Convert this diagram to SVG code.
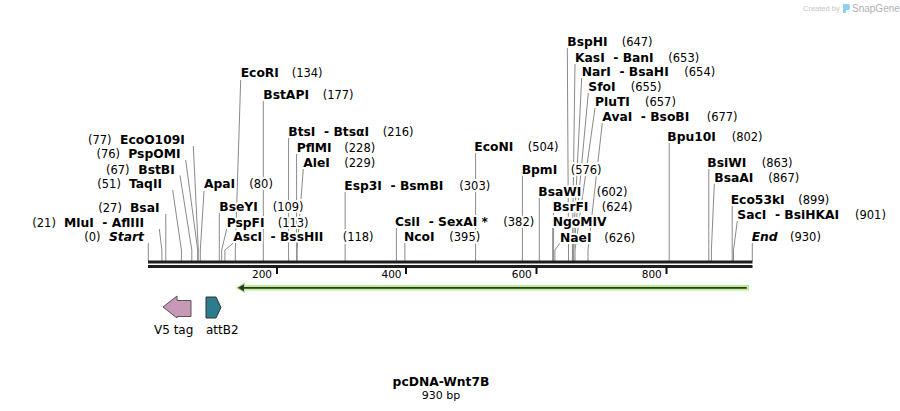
<svg xmlns="http://www.w3.org/2000/svg" width="900" height="411" viewBox="0 0 900 411">
<style>
text{font-family:"DejaVu Sans","Verdana",sans-serif;fill:#000}
.lab text{paint-order:stroke;stroke:#fff;stroke-width:4px;stroke-linejoin:round}
.n{font-weight:bold;font-size:12.3px}
.i{font-weight:bold;font-style:italic;font-size:12.3px}
.c{font-size:11.5px}
.conn polyline{fill:none;stroke:#8a8a8a;stroke-width:1}
.tick{fill:#111}
.tl{font-size:10.5px;text-anchor:end}
.ft{font-size:12px}
</style>
<rect width="900" height="411" fill="#fff"/>
<g id="watermark">
<text x="803" y="11" style="font-size:7.5px;fill:#c4c4c4;font-family:'Liberation Sans',sans-serif">Created by</text>
<path d="M843,4 h5 a2,2 0 0 1 2,2 v2 a2,2 0 0 1 -2,2 h-2 v3 h-3 z" fill="#8fd0f0"/>
<text x="852" y="12" style="font-size:10px;fill:#b0b0b0;font-family:'Liberation Sans',sans-serif">SnapGene</text>
</g>
<g id="connectors" class="conn">
<polyline points="193.3,146 198.3,250 198.3,261"/>
<polyline points="185.7,160 197.7,250 197.7,261"/>
<polyline points="180,175.5 191.8,250 191.8,261"/>
<polyline points="172.7,190 181.4,250 181.4,261"/>
<polyline points="165.8,214 165.8,261"/>
<polyline points="159.3,229 161.9,250 161.9,261"/>
<polyline points="148.3,243 148.3,261"/>
<polyline points="204,191 200.3,250 200.3,261"/>
<polyline points="240.7,80 235.3,250 235.3,261"/>
<polyline points="263.3,101 263.3,261"/>
<polyline points="288.6,138 288.6,261"/>
<polyline points="296.6,154 296.6,261"/>
<polyline points="303.3,169 297.1,250 297.1,261"/>
<polyline points="345.1,191 345.1,261"/>
<polyline points="219.3,213 219.3,261"/>
<polyline points="226.7,229 221.7,250 221.7,261"/>
<polyline points="233.3,243 224.9,250 224.9,261"/>
<polyline points="396.4,228 396.4,261"/>
<polyline points="404.9,243 404.9,261"/>
<polyline points="475.6,153 475.6,261"/>
<polyline points="522.4,175 522.4,261"/>
<polyline points="539.3,198 539.3,261"/>
<polyline points="553.6,213 553.6,261"/>
<polyline points="552.7,228 552.7,261"/>
<polyline points="560,243 554.9,250 554.9,261"/>
<polyline points="567.3,48 568.5,250 568.5,261"/>
<polyline points="575,64 572.4,250 572.4,261"/>
<polyline points="581.7,78 573.1,250 573.1,261"/>
<polyline points="588.3,93 573.7,250 573.7,261"/>
<polyline points="595,108 575,250 575,261"/>
<polyline points="602.3,123 588,250 588,261"/>
<polyline points="669.2,143 669.2,261"/>
<polyline points="708.8,169 708.8,261"/>
<polyline points="714.3,184 711.4,250 711.4,261"/>
<polyline points="732.2,206 732.2,261"/>
<polyline points="737.3,221 733.5,250 733.5,261"/>
<polyline points="752.3,243 752.3,261"/>
</g>
<g id="backbone">
<rect x="148" y="260.5" width="604.5" height="3" fill="#1e1e1e"/>
<rect x="148" y="265" width="604.5" height="3" fill="#1e1e1e"/>
<rect class="tick" x="276" y="267" width="2" height="7"/>
<rect class="tick" x="405" y="267" width="2" height="7"/>
<rect class="tick" x="535.5" y="267" width="2" height="7"/>
<rect class="tick" x="665.5" y="267" width="2" height="7"/>
<text class="tl" x="272" y="277.5">200</text>
<text class="tl" x="401.5" y="277.5">400</text>
<text class="tl" x="531.8" y="277.5">600</text>
<text class="tl" x="661.8" y="277.5">800</text>
</g>
<g id="feature-wnt7b">
<path d="M749,287.8 H243" stroke="#b6f08a" stroke-width="5.6" fill="none"/>
<polygon points="235.5,287.8 245,282 245,293.6" fill="#b6f08a"/>
<path d="M746.7,287.8 H242" stroke="#333" stroke-width="1.8" fill="none"/>
<polygon points="237.8,287.8 244,284.2 244,291.4" fill="#333"/>
</g>
<g id="feature-v5tag">
<polygon points="163,307 177,296 177,300.5 191,300.5 191,316.5 177,316.5 177,318" fill="#c998b6" stroke="#555" stroke-width="1"/>
<text class="ft" x="154" y="334">V5 tag</text>
</g>
<g id="feature-attb2">
<polygon points="206,297 216,297 221,307.5 216,318 206,318" fill="#2b7c8d" stroke="#333" stroke-width="1"/>
<text class="ft" x="206" y="334">attB2</text>
</g>
<g class="lab">
<g id="EcoO109I"><text class="c" x="88" y="144">(77)</text><text class="n" x="120" y="144">EcoO109I</text></g>
<g id="PspOMI"><text class="c" x="96.5" y="158">(76)</text><text class="n" x="128.3" y="158">PspOMI</text></g>
<g id="BstBI"><text class="c" x="106" y="173.5">(67)</text><text class="n" x="138.3" y="173.5">BstBI</text></g>
<g id="TaqII"><text class="c" x="97.3" y="188">(51)</text><text class="n" x="129" y="188">TaqII</text></g>
<g id="BsaI"><text class="c" x="98.3" y="212">(27)</text><text class="n" x="130" y="212">BsaI</text></g>
<g id="MluI"><text class="c" x="32.3" y="226.5">(21)</text><text class="n" x="64" y="226.5" xml:space="preserve">MluI  - AflIII</text></g>
<g id="Start"><text class="c" x="84.3" y="241">(0)</text><text class="i" x="109" y="241">Start</text></g>
<g id="ApaI"><text class="n" x="204" y="188">ApaI</text><text class="c" x="249.3" y="188">(80)</text></g>
<g id="EcoRI"><text class="n" x="240.7" y="77">EcoRI</text><text class="c" x="291.7" y="77">(134)</text></g>
<g id="BstAPI"><text class="n" x="263.3" y="99">BstAPI</text><text class="c" x="322.7" y="99">(177)</text></g>
<g id="BtsI"><text class="n" x="288.3" y="136" xml:space="preserve">BtsI  - BtsαI</text><text class="c" x="382.7" y="136">(216)</text></g>
<g id="PflMI"><text class="n" x="296.7" y="152">PflMI</text><text class="c" x="344.3" y="152">(228)</text></g>
<g id="AleI"><text class="n" x="303.3" y="167">AleI</text><text class="c" x="344.3" y="167">(229)</text></g>
<g id="Esp3I"><text class="n" x="344.3" y="189.5" xml:space="preserve">Esp3I  - BsmBI</text><text class="c" x="459.3" y="189.5">(303)</text></g>
<g id="BseYI"><text class="n" x="219.3" y="211">BseYI</text><text class="c" x="272.7" y="211">(109)</text></g>
<g id="PspFI"><text class="n" x="226.7" y="226.5">PspFI</text><text class="c" x="277.7" y="226.5">(113)</text></g>
<g id="AscI"><text class="n" x="233.3" y="241" xml:space="preserve">AscI  - BssHII</text><text class="c" x="342.7" y="241">(118)</text></g>
<g id="CsiI"><text class="n" x="395" y="226" xml:space="preserve">CsiI  - SexAI *</text><text class="c" x="503.3" y="226">(382)</text></g>
<g id="NcoI"><text class="n" x="404" y="241">NcoI</text><text class="c" x="449.3" y="241">(395)</text></g>
<g id="EcoNI"><text class="n" x="474.3" y="151">EcoNI</text><text class="c" x="527.7" y="151">(504)</text></g>
<g id="BpmI"><text class="n" x="521.7" y="173.5">BpmI</text><text class="c" x="570.7" y="173.5">(576)</text></g>
<g id="BsaWI"><text class="n" x="538.3" y="196">BsaWI</text><text class="c" x="596.7" y="196">(602)</text></g>
<g id="BsrFI"><text class="n" x="552.7" y="211">BsrFI</text><text class="c" x="601.7" y="211">(624)</text></g>
<g id="NgoMIV"><text class="n" x="552.7" y="226">NgoMIV</text></g>
<g id="NaeI"><text class="n" x="560" y="241.5">NaeI</text><text class="c" x="604.3" y="241.5">(626)</text></g>
<g id="BspHI"><text class="n" x="567.3" y="45.5">BspHI</text><text class="c" x="621.7" y="45.5">(647)</text></g>
<g id="KasI"><text class="n" x="575" y="62" xml:space="preserve">KasI  - BanI</text><text class="c" x="668.3" y="62">(653)</text></g>
<g id="NarI"><text class="n" x="581.7" y="76" xml:space="preserve">NarI  - BsaHI</text><text class="c" x="684.3" y="76">(654)</text></g>
<g id="SfoI"><text class="n" x="588.3" y="91">SfoI</text><text class="c" x="630.7" y="91">(655)</text></g>
<g id="PluTI"><text class="n" x="595" y="106">PluTI</text><text class="c" x="645" y="106">(657)</text></g>
<g id="AvaI"><text class="n" x="602.3" y="120.5" xml:space="preserve">AvaI  - BsoBI</text><text class="c" x="706.7" y="120.5">(677)</text></g>
<g id="Bpu10I"><text class="n" x="667.3" y="141">Bpu10I</text><text class="c" x="731.7" y="141">(802)</text></g>
<g id="BsiWI"><text class="n" x="707.3" y="167">BsiWI</text><text class="c" x="761.7" y="167">(863)</text></g>
<g id="BsaAI"><text class="n" x="714.3" y="182">BsaAI</text><text class="c" x="768.3" y="182">(867)</text></g>
<g id="Eco53kI"><text class="n" x="730.7" y="204">Eco53kI</text><text class="c" x="798.3" y="204">(899)</text></g>
<g id="SacI"><text class="n" x="737.3" y="219" xml:space="preserve">SacI  - BsiHKAI</text><text class="c" x="855" y="219">(901)</text></g>
<g id="End"><text class="i" x="751.7" y="241">End</text><text class="c" x="790" y="241">(930)</text></g>
</g>
<g id="title">
<text x="441" y="386" text-anchor="middle" style="font-weight:bold;font-size:12.3px">pcDNA-Wnt7B</text>
<text x="441" y="399" text-anchor="middle" style="font-size:11px">930 bp</text>
</g>
</svg>
